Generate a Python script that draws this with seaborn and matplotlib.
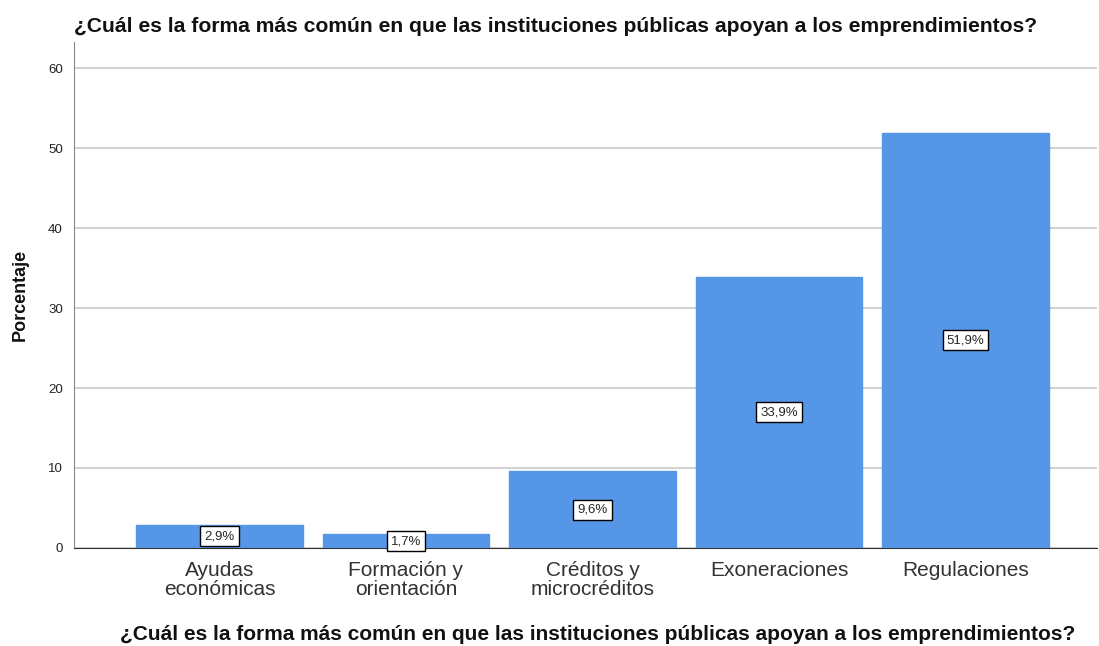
import pandas as pd
import matplotlib
matplotlib.use("Agg")
import matplotlib.pyplot as plt
import seaborn as sns

categorias = ["Ayudas\neconómicas", "Formación y\norientación", "Créditos y\nmicrocréditos",
              "Exoneraciones", "Regulaciones"]
porcentajes = [2.9, 1.7, 9.6, 33.9, 51.9]
etiquetas = ["2,9%", "1,7%", "9,6%", "33,9%", "51,9%"]
titulo = "¿Cuál es la forma más común en que las instituciones públicas apoyan a los emprendimientos?"

df = pd.DataFrame({"categoria": categorias, "porcentaje": porcentajes})

sns.set_style("white")
plt.rcParams['font.family'] = ['Liberation Sans', 'DejaVu Sans']

fig = plt.figure(figsize=(10.99, 6.46), dpi=100)
ax = fig.add_axes([74/1099, 1-548/646, (1097-74)/1099, (548-42)/646])

sns.barplot(data=df, x="categoria", y="porcentaje", color="#5596E6", width=0.895,
            saturation=1, edgecolor="#5596E6", ax=ax, zorder=3)

for i, (v, t) in enumerate(zip(porcentajes, etiquetas)):
    ax.text(i, v/2, t, ha="center", va="center", fontsize=9.5, zorder=5,
            bbox=dict(boxstyle="square,pad=0.3", fc="white", ec="black", lw=1))

ax.set_xlim(-0.78, 4.705)
ax.set_ylim(0, 63.25)
ax.set_yticks([0, 10, 20, 30, 40, 50, 60])
ax.yaxis.grid(True, color="#d2d2d2", lw=1.5, zorder=0)
ax.set_axisbelow(True)
for s in ["top", "right"]:
    ax.spines[s].set_visible(False)
ax.spines["left"].set_color("#888888")
ax.spines["bottom"].set_color("#333333")
ax.tick_params(axis="x", length=0, labelsize=15, pad=9, labelcolor="#333333")
ax.tick_params(axis="y", length=0, labelsize=9.5, pad=8, labelcolor="#222222")
for lbl in ax.get_xticklabels():
    lbl.set_linespacing(1.02)

ax.set_xlabel(titulo, fontsize=15, fontweight="bold", color="#111111", va="center")
ax.xaxis.set_label_coords((598-74)/(1097-74), -(634-548)/(548-42))
ax.set_ylabel("Porcentaje", fontsize=13, fontweight="bold", labelpad=14, color="#111111")
fig.text(556/1099, 1-27/646, titulo, ha="center", va="center", fontsize=15.2,
         fontweight="bold", color="#111111")

fig.savefig("out.png", dpi=100)
